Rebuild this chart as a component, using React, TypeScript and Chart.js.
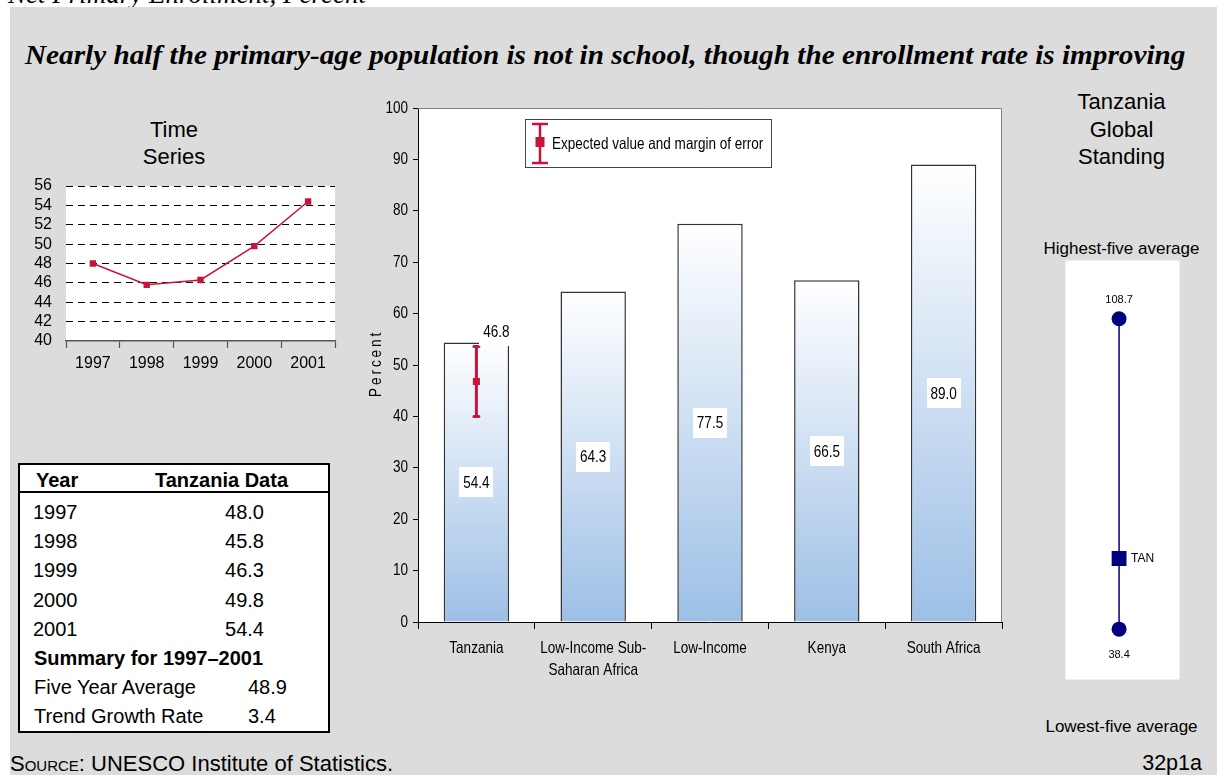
import React, { useEffect, useRef } from 'react';
import { Chart, registerables } from 'chart.js';

Chart.register(...registerables);

const SANS = "'Liberation Sans', Arial, Helvetica, sans-serif";
const SERIF = "'Liberation Serif', 'Times New Roman', Times, serif";
// Condensed sans for the comparison chart: Liberation Sans squeezed horizontally
const CONDENSE = 0.82;
const CONDENSED_FONT = `16.5px ${SANS}`;

const CRIMSON = '#c8143c';
const NAVY = '#000080';
const PANEL = '#dcdcdc';

// Time series of net primary enrollment (percent)
const years = ['1997', '1998', '1999', '2000', '2001'];
const enrollment = [48.0, 45.8, 46.3, 49.8, 54.4];
const seriesTickMin = 40;
const seriesTickMax = 56;
const seriesTickStep = 2;

// Summary rows of the data table
const summaryLabels = ['Five Year Average', 'Trend Growth Rate'];
const summaryValues = [48.9, 3.4];

// Comparison bars
const groups = [['Tanzania'], ['Low-Income Sub-', 'Saharan Africa'], ['Low-Income'], ['Kenya'], ['South Africa']];
const groupValues = [54.4, 64.3, 77.5, 66.5, 89.0];
const expectedValues = [46.8, null, null, null, null];
const errorMargin = 6.8;
const percentTickMax = 100;
const percentTickStep = 10;

// Global standing
const highestFive = 108.7;
const lowestFive = 38.4;
const tanzaniaLatest = 54.4;
const countryCode = 'TAN';

const plotBackground = {
  id: 'plotBackground',
  beforeDraw(chart: any) {
    const { ctx, chartArea: a } = chart;
    ctx.save();
    ctx.fillStyle = '#ffffff';
    ctx.fillRect(a.left, a.top, a.right - a.left, a.bottom - a.top);
    ctx.restore();
  },
};

function condensedText(ctx: CanvasRenderingContext2D, text: string, x: number, y: number, align: CanvasTextAlign) {
  ctx.save();
  ctx.translate(x, y);
  ctx.scale(CONDENSE, 1);
  ctx.font = CONDENSED_FONT;
  ctx.textAlign = align;
  ctx.textBaseline = 'middle';
  ctx.fillText(text, 0, 0);
  ctx.restore();
}

function boxLabel(ctx: CanvasRenderingContext2D, text: string, cx: number, cy: number) {
  ctx.save();
  ctx.font = CONDENSED_FONT;
  const w = Math.round(ctx.measureText(text).width * CONDENSE + 8);
  const h = 30;
  ctx.fillStyle = '#ffffff';
  ctx.fillRect(Math.round(cx - w / 2), Math.round(cy - h / 2), w, h);
  ctx.fillStyle = '#000000';
  condensedText(ctx, text, cx, cy + 1, 'center');
  ctx.restore();
}

function timeSeriesConfig(): any {
  return {
    type: 'line',
    data: {
      labels: years,
      datasets: [
        {
          data: enrollment,
          borderColor: CRIMSON,
          borderWidth: 1.5,
          pointStyle: 'rect',
          pointRadius: 4.5,
          pointBackgroundColor: CRIMSON,
          pointBorderColor: CRIMSON,
          pointBorderWidth: 0,
          tension: 0,
          fill: false,
        },
      ],
    },
    options: {
      responsive: false,
      animation: false,
      devicePixelRatio: 1,
      events: [],
      layout: { padding: { left: 0, top: 11, right: 15, bottom: 0 } },
      plugins: { legend: { display: false }, tooltip: { enabled: false } },
      scales: {
        x: {
          offset: true,
          grid: { offset: true, drawOnChartArea: false, tickLength: 7, tickColor: '#555', tickWidth: 1.2 },
          border: { color: '#555', width: 1.5 },
          ticks: { color: '#000', font: { family: SANS, size: 16 }, padding: 6, maxRotation: 0, autoSkip: false },
          afterFit(s: any) { s.height = 39; },
        },
        y: {
          min: seriesTickMin,
          max: seriesTickMax,
          ticks: { stepSize: seriesTickStep, autoSkip: false, color: '#000', font: { family: SANS, size: 16 }, padding: 0 },
          grid: {
            drawTicks: true,
            tickLength: 14,
            tickColor: 'rgba(0,0,0,0)',
            lineWidth: 1,
            color: (c: any) => (c.tick && c.tick.value === seriesTickMin ? 'rgba(0,0,0,0)' : '#000'),
          },
          border: { display: false, dash: [7, 5] },
          afterFit(s: any) { s.width = 46; },
        },
      },
    },
    plugins: [plotBackground],
  };
}

function comparisonConfig(): any {
  const barGradient = (c: any) => {
    const chart = c.chart;
    if (c.type !== 'data' || !chart.chartArea) return '#c8daf0';
    const y = chart.scales.y;
    const top = y.getPixelForValue(groupValues[c.dataIndex]);
    const bottom = y.getPixelForValue(0);
    const g = chart.ctx.createLinearGradient(0, top, 0, bottom);
    g.addColorStop(0, '#ffffff');
    g.addColorStop(1, '#9dbfe6');
    return g;
  };

  const plotFrame = {
    id: 'plotFrame',
    beforeDatasetsDraw(chart: any) {
      const { ctx, chartArea: a } = chart;
      ctx.save();
      ctx.strokeStyle = '#808080';
      ctx.lineWidth = 1;
      ctx.beginPath();
      ctx.moveTo(a.left, a.top + 0.5);
      ctx.lineTo(a.right - 0.5, a.top + 0.5);
      ctx.lineTo(a.right - 0.5, a.bottom);
      ctx.stroke();
      ctx.restore();
    },
  };

  // Tick labels in the condensed face, placed from the scales' own ticks
  const axisLabels = {
    id: 'axisLabels',
    afterDraw(chart: any) {
      const { ctx, scales, chartArea: a } = chart;
      ctx.save();
      ctx.fillStyle = '#000';
      scales.y.ticks.forEach((t: any, i: number) => {
        condensedText(ctx, String(t.value), a.left - 10, scales.y.getPixelForTick(i), 'right');
      });
      scales.x.ticks.forEach((t: any, i: number) => {
        const lines = groups[t.value] || [];
        lines.forEach((line, j) => {
          condensedText(ctx, line, scales.x.getPixelForTick(i), a.bottom + 26 + j * 22, 'center');
        });
      });
      ctx.restore();
    },
  };

  const errorBars = {
    id: 'errorBars',
    afterDatasetDraw(chart: any, args: any) {
      if (args.meta.type !== 'bar') return;
      const { ctx, scales } = chart;
      expectedValues.forEach((v, i) => {
        if (v == null) return;
        const cx = scales.x.getPixelForValue(i);
        const top = scales.y.getPixelForValue(v + errorMargin);
        const bot = scales.y.getPixelForValue(v - errorMargin);
        ctx.save();
        ctx.strokeStyle = CRIMSON;
        ctx.lineWidth = 3;
        ctx.beginPath();
        ctx.moveTo(cx, top);
        ctx.lineTo(cx, bot);
        ctx.stroke();
        ctx.lineCap = 'round';
        ctx.beginPath();
        ctx.moveTo(cx - 2.5, top);
        ctx.lineTo(cx + 2.5, top);
        ctx.moveTo(cx - 2.5, bot);
        ctx.lineTo(cx + 2.5, bot);
        ctx.stroke();
        ctx.restore();
      });
    },
  };

  const valueLabels = {
    id: 'valueLabels',
    afterDatasetsDraw(chart: any) {
      const { ctx, scales } = chart;
      groupValues.forEach((v, i) => {
        boxLabel(ctx, v.toFixed(1), scales.x.getPixelForValue(i), scales.y.getPixelForValue(v / 2));
      });
      expectedValues.forEach((v, i) => {
        if (v == null) return;
        boxLabel(ctx, v.toFixed(1), scales.x.getPixelForValue(i) + 20, scales.y.getPixelForValue(v + errorMargin) - 15);
      });
    },
  };

  const legendBox = {
    id: 'legendBox',
    afterDraw(chart: any) {
      const { ctx, chartArea: a } = chart;
      const left = a.left + 107;
      const top = a.top + 11;
      ctx.save();
      ctx.fillStyle = '#ffffff';
      ctx.fillRect(left, top, 247, 49);
      ctx.strokeStyle = '#444';
      ctx.lineWidth = 1;
      ctx.strokeRect(left + 0.5, top + 0.5, 246, 48);
      const sx = left + 15;
      ctx.strokeStyle = CRIMSON;
      ctx.lineWidth = 2.5;
      ctx.beginPath();
      ctx.moveTo(sx, top + 5);
      ctx.lineTo(sx, top + 44);
      ctx.moveTo(sx - 8, top + 5);
      ctx.lineTo(sx + 8, top + 5);
      ctx.moveTo(sx - 8, top + 44);
      ctx.lineTo(sx + 8, top + 44);
      ctx.stroke();
      ctx.fillStyle = CRIMSON;
      ctx.fillRect(sx - 4.5, top + 18, 9, 10);
      ctx.fillStyle = '#000';
      condensedText(ctx, 'Expected value and margin of error', left + 27, top + 25, 'left');
      ctx.restore();
    },
  };

  const axisTitle = {
    id: 'axisTitle',
    afterDraw(chart: any) {
      const { ctx, chartArea: a } = chart;
      ctx.save();
      ctx.translate(46, (a.top + a.bottom) / 2);
      ctx.rotate(-Math.PI / 2);
      ctx.scale(CONDENSE, 1);
      ctx.font = CONDENSED_FONT;
      (ctx as any).letterSpacing = '3.6px';
      ctx.textAlign = 'center';
      ctx.textBaseline = 'middle';
      ctx.fillStyle = '#000';
      ctx.fillText('Percent', 2, 0);
      ctx.restore();
    },
  };

  return {
    type: 'bar',
    data: {
      labels: groups,
      datasets: [
        {
          type: 'line',
          data: expectedValues,
          order: 0,
          showLine: false,
          pointStyle: 'rect',
          pointRadius: 5,
          pointBackgroundColor: CRIMSON,
          pointBorderColor: CRIMSON,
          pointBorderWidth: 0,
        },
        {
          type: 'bar',
          data: groupValues,
          order: 1,
          backgroundColor: barGradient,
          borderColor: '#333',
          borderWidth: 1.5,
          borderSkipped: 'bottom',
          barPercentage: 0.56,
          categoryPercentage: 1,
        },
      ],
    },
    options: {
      responsive: false,
      animation: false,
      devicePixelRatio: 1,
      events: [],
      layout: { padding: { left: 0, top: 13, right: 18, bottom: 0 } },
      plugins: { legend: { display: false }, tooltip: { enabled: false } },
      scales: {
        x: {
          offset: true,
          grid: { offset: true, drawOnChartArea: false, tickLength: 7, tickColor: '#000' },
          border: { color: '#000', width: 1 },
          ticks: { display: false, autoSkip: false },
          afterFit(s: any) { s.height = 98; },
        },
        y: {
          min: 0,
          max: percentTickMax,
          ticks: { display: false, stepSize: percentTickStep, autoSkip: false },
          grid: { drawOnChartArea: false, tickLength: 5, tickColor: '#000' },
          border: { color: '#000', width: 1 },
          afterFit(s: any) { s.width = 88; },
        },
      },
    },
    plugins: [plotBackground, plotFrame, errorBars, valueLabels, legendBox, axisTitle, axisLabels],
  };
}

function standingConfig(): any {
  const standingLabels = {
    id: 'standingLabels',
    afterDatasetsDraw(chart: any) {
      const { ctx, scales } = chart;
      const cx = scales.x.getPixelForValue(0.47);
      ctx.save();
      ctx.fillStyle = '#000';
      ctx.textBaseline = 'middle';
      ctx.textAlign = 'center';
      ctx.font = `11px ${SANS}`;
      ctx.fillText(highestFive.toFixed(1), cx, scales.y.getPixelForValue(highestFive) - 19);
      ctx.fillText(lowestFive.toFixed(1), cx, scales.y.getPixelForValue(lowestFive) + 26);
      ctx.textAlign = 'left';
      ctx.font = `12px ${SANS}`;
      ctx.fillText(countryCode, cx + 12, scales.y.getPixelForValue(tanzaniaLatest));
      ctx.restore();
    },
  };
  return {
    type: 'scatter',
    data: {
      datasets: [
        {
          data: [{ x: 0.47, y: tanzaniaLatest }],
          pointStyle: 'rect',
          pointRadius: 10.5,
          backgroundColor: NAVY,
          borderColor: NAVY,
          pointBorderWidth: 0,
        },
        {
          data: [
            { x: 0.47, y: highestFive },
            { x: 0.47, y: lowestFive },
          ],
          showLine: true,
          borderColor: NAVY,
          borderWidth: 1.5,
          pointStyle: 'circle',
          pointRadius: 7.5,
          backgroundColor: NAVY,
          pointBackgroundColor: NAVY,
          pointBorderWidth: 0,
        },
      ],
    },
    options: {
      responsive: false,
      animation: false,
      devicePixelRatio: 1,
      events: [],
      layout: { padding: { left: 5, right: 5, top: 7, bottom: 8 } },
      plugins: { legend: { display: false }, tooltip: { enabled: false } },
      scales: {
        x: { display: false, min: 0, max: 1 },
        y: { display: false, min: 27, max: 121.9 },
      },
    },
    plugins: [plotBackground, standingLabels],
  };
}

type TextProps = {
  x: number;
  y: number;
  size: number;
  children: React.ReactNode;
  bold?: boolean;
  italic?: boolean;
  family?: string;
  align?: 'left' | 'center' | 'right';
  stretch?: number;
};

function Text({ x, y, size, children, bold, italic, family = SANS, align = 'left', stretch = 1 }: TextProps) {
  const tx = align === 'center' ? '-50%' : align === 'right' ? '-100%' : '0';
  return (
    <div
      style={{
        position: 'absolute',
        left: x,
        top: y,
        transform: `translate(${tx}, -50%)${stretch !== 1 ? ` scaleX(${stretch})` : ''}`,
        transformOrigin: 'left center',
        fontFamily: family,
        fontSize: size,
        fontWeight: bold ? 700 : 400,
        fontStyle: italic ? 'italic' : 'normal',
        lineHeight: 1,
        whiteSpace: 'nowrap',
        color: '#000',
      }}
    >
      {children}
    </div>
  );
}

export default function App() {
  const tsRef = useRef<HTMLCanvasElement>(null);
  const barRef = useRef<HTMLCanvasElement>(null);
  const standRef = useRef<HTMLCanvasElement>(null);

  useEffect(() => {
    const charts: Chart[] = [
      new Chart(tsRef.current!, timeSeriesConfig()),
      new Chart(barRef.current!, comparisonConfig()),
      new Chart(standRef.current!, standingConfig()),
    ];
    return () => charts.forEach((c) => c.destroy());
  }, []);

  const rowY = (i: number) => 512 + i * 29.2;

  return (
    <div style={{ position: 'fixed', left: 0, top: 0, width: 1219, height: 775, background: '#fff', overflow: 'hidden' }}>
      <Text x={8} y={-6} size={27} italic family={SERIF}>Net Primary Enrollment, Percent</Text>
      <div style={{ position: 'absolute', left: 10, top: 7, width: 1207, height: 768, background: PANEL }} />

      <Text x={25} y={55} size={26.5} bold italic family={SERIF} stretch={1.103}>
        Nearly half the primary-age population is not in school, though the enrollment rate is improving
      </Text>

      <Text x={174} y={130} size={22} align="center">Time</Text>
      <Text x={174} y={157} size={22} align="center">Series</Text>
      <canvas ref={tsRef} width={330} height={205} style={{ position: 'absolute', left: 20, top: 175, width: 330, height: 205 }} />

      <div style={{ position: 'absolute', left: 18, top: 463, width: 312, height: 270, boxSizing: 'border-box', border: '2px solid #000', background: '#fff' }} />
      <div style={{ position: 'absolute', left: 18, top: 491, width: 312, height: 2, background: '#000' }} />
      <Text x={36} y={480} size={20} bold>Year</Text>
      <Text x={155} y={480} size={20} bold>Tanzania Data</Text>
      {years.map((yr, i) => (
        <React.Fragment key={yr}>
          <Text x={33} y={rowY(i)} size={20}>{yr}</Text>
          <Text x={264} y={rowY(i)} size={20} align="right">{enrollment[i].toFixed(1)}</Text>
        </React.Fragment>
      ))}
      <Text x={34} y={rowY(5)} size={20} bold>{`Summary for ${years[0]}–${years[years.length - 1]}`}</Text>
      {summaryLabels.map((lab, i) => (
        <React.Fragment key={lab}>
          <Text x={34} y={rowY(6 + i)} size={20}>{lab}</Text>
          <Text x={248} y={rowY(6 + i)} size={20}>{summaryValues[i].toFixed(1)}</Text>
        </React.Fragment>
      ))}

      <canvas ref={barRef} width={690} height={625} style={{ position: 'absolute', left: 330, top: 95, width: 690, height: 625 }} />

      <Text x={1121.5} y={102} size={22} align="center">Tanzania</Text>
      <Text x={1121.5} y={130} size={22} align="center">Global</Text>
      <Text x={1121.5} y={157} size={22} align="center">Standing</Text>
      <Text x={1121.5} y={248} size={17} align="center">Highest-five average</Text>
      <canvas ref={standRef} width={135} height={440} style={{ position: 'absolute', left: 1055, top: 250, width: 135, height: 440 }} />
      <Text x={1121.5} y={725.5} size={17} align="center">Lowest-five average</Text>

      <Text x={10} y={764} size={22}>
        <span style={{ fontVariant: 'small-caps' }}>Source</span>: UNESCO Institute of Statistics.
      </Text>
      <Text x={1202} y={764} size={21.5} align="right">32p1a</Text>
    </div>
  );
}
